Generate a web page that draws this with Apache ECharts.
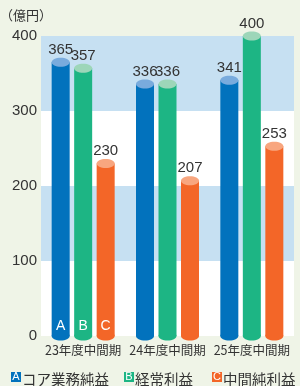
<!DOCTYPE html>
<html>
<head>
<meta charset="utf-8">
<script src="https://cdn.jsdelivr.net/npm/echarts@6/dist/echarts.min.js"></script>
<style>
  html, body { margin: 0; padding: 0; background: #eff4e7; }
  #main { width: 300px; height: 386px; }
</style>
</head>
<body>
<div id="main"></div>
<script>
// 期間
const categories = ['23年度中間期', '24年度中間期', '25年度中間期'];
// 億円
const coreProfit = [365, 336, 341];
const ordinaryProfit = [357, 336, 400];
const netProfit = [230, 207, 253];
const yTicks = [0, 100, 200, 300, 400];

const seriesNames = ['コア業務純益', '経常利益', '中間純利益'];
const letters = ['A', 'B', 'C'];
const bodyColors = ['#0272bd', '#1db584', '#f36628'];
const topColors = ['#79abdd', '#9dd6b9', '#f8a67f'];
const numFont = '"Liberation Sans Narrow", "Liberation Sans", sans-serif';
const jpFont = '"Noto Sans CJK JP", sans-serif';
const mixFont = '"Liberation Sans Narrow", "Noto Sans CJK JP", sans-serif';

const chart = echarts.init(document.getElementById('main'));

// 円柱を描く
function cylinder(si) {
  return function (params, api) {
    const idx = api.value(0);
    const val = api.value(1);
    const top = api.coord([idx, val]);
    const base = api.coord([idx, 0]);
    const cx = top[0] + (si - 1) * 22.5;
    const rx = 9, ry = 4.5;
    const children = [
      { type: 'ellipse', shape: { cx: cx, cy: base[1], rx: rx, ry: ry }, style: { fill: bodyColors[si] } },
      { type: 'rect', shape: { x: cx - rx, y: top[1], width: rx * 2, height: base[1] - top[1] }, style: { fill: bodyColors[si] } },
      { type: 'ellipse', shape: { cx: cx, cy: top[1], rx: rx, ry: ry }, style: { fill: topColors[si] } },
      { type: 'text', style: { x: cx, y: top[1] - 5, text: String(val), align: 'center', verticalAlign: 'bottom', fontSize: 15, fontFamily: numFont, fill: '#333' } }
    ];
    if (idx === 0) {
      children.push({ type: 'text', style: { x: cx, y: base[1] - 10, text: letters[si], align: 'center', verticalAlign: 'middle', fontSize: 14, fontFamily: numFont, fill: '#fff' } });
    }
    return { type: 'group', children: children };
  };
}

const seriesData = [coreProfit, ordinaryProfit, netProfit];

// 凡例
const legendItems = [];
const legendX = [11, 124, 212];
seriesNames.forEach(function (name, i) {
  legendItems.push({ type: 'rect', shape: { x: legendX[i], y: 372, width: 10, height: 10 }, style: { fill: bodyColors[i] } });
  legendItems.push({ type: 'text', style: { x: legendX[i] + 5, y: 377, text: letters[i], align: 'center', verticalAlign: 'middle', fontSize: 11, fontFamily: numFont, fill: '#fff' } });
  legendItems.push({ type: 'text', style: { x: legendX[i] + 11, y: 379, text: name, verticalAlign: 'middle', fontSize: 14.5, fontFamily: jpFont, fill: '#333' } });
});

chart.setOption({
  backgroundColor: '#eff4e7',
  animation: false,
  grid: { left: 41, right: 6, top: 36, bottom: 50 },
  xAxis: {
    type: 'category',
    data: categories,
    axisLine: { show: false },
    axisTick: { show: false },
    axisLabel: { interval: 0, margin: 8, fontSize: 12.5, color: '#333', fontFamily: mixFont }
  },
  yAxis: {
    type: 'value',
    min: 0,
    max: 400,
    interval: 100,
    axisLine: { show: false },
    axisTick: { show: false },
    splitLine: { show: false },
    splitArea: { show: true, areaStyle: { color: ['#ffffff', '#c6e0f2'] } },
    axisLabel: {
      margin: 4, fontSize: 15, color: '#333', fontFamily: numFont,
      formatter: function (v) { return yTicks.indexOf(v) >= 0 ? String(v) : ''; }
    }
  },
  graphic: [
    { type: 'text', left: 0, top: 9, style: { text: '（億円）', fontSize: 13, fontFamily: jpFont, fill: '#333' } }
  ].concat(legendItems),
  series: seriesData.map(function (arr, si) {
    return {
      type: 'custom',
      name: seriesNames[si],
      clip: false,
      renderItem: cylinder(si),
      encode: { x: 0, y: 1 },
      data: arr.map(function (v, i) { return [i, v]; })
    };
  })
});
</script>
</body>
</html>
